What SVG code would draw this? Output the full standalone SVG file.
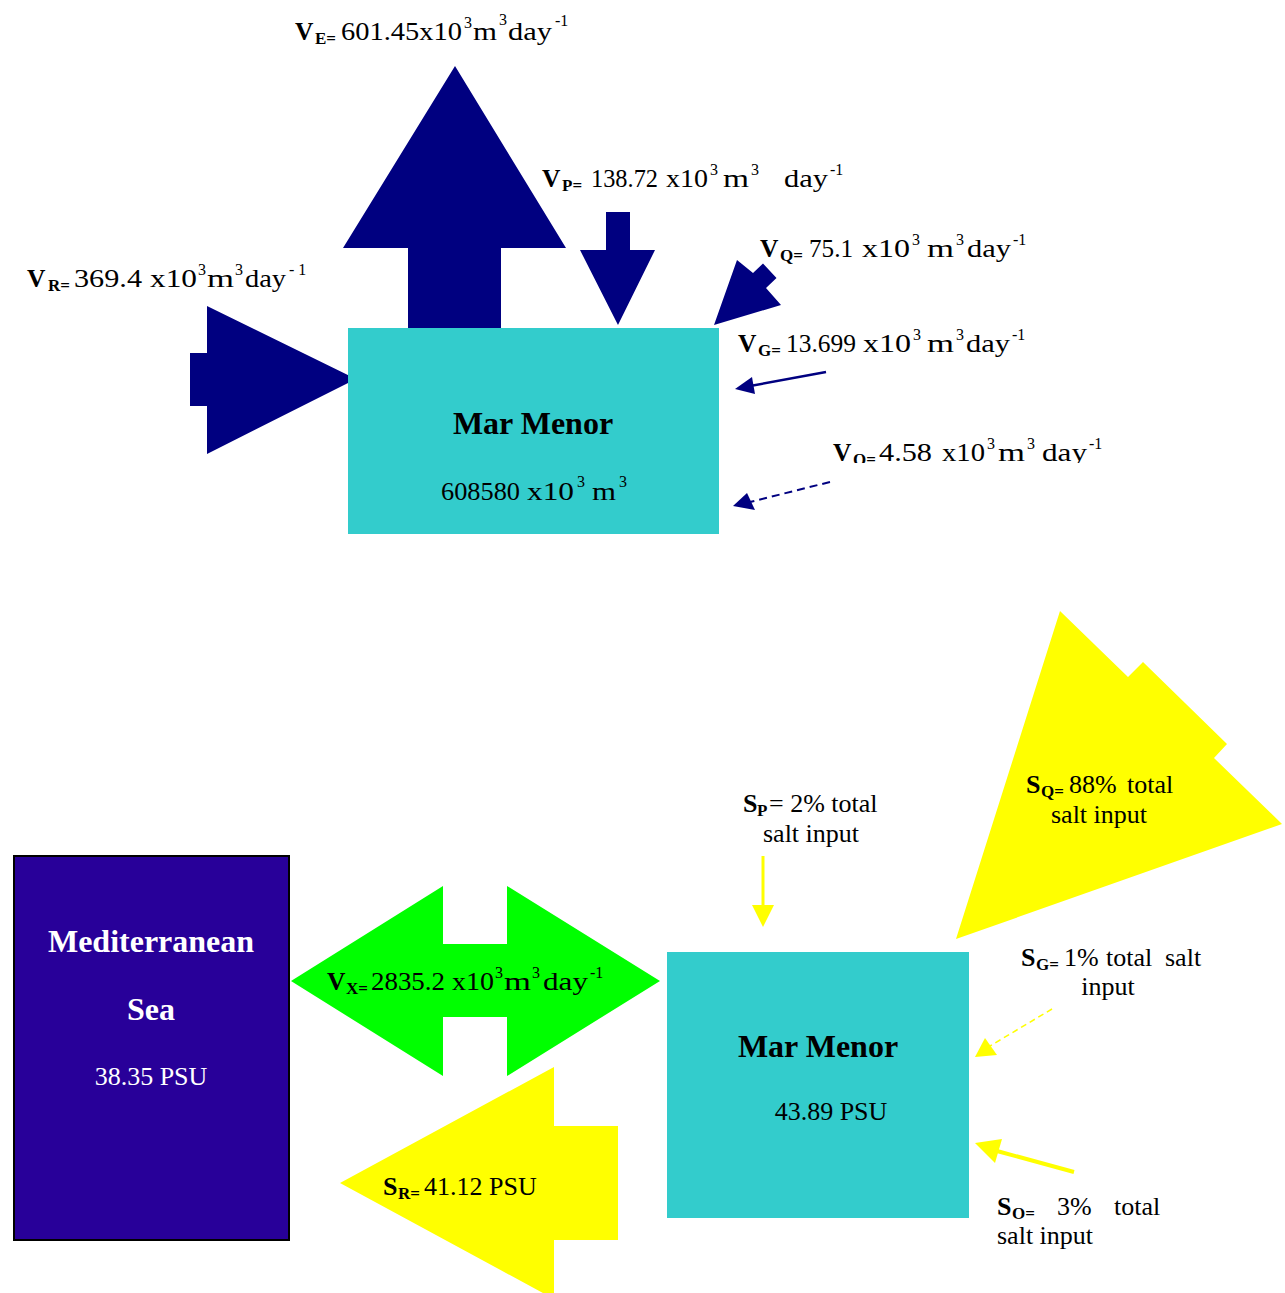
<svg xmlns="http://www.w3.org/2000/svg" width="1285" height="1293" viewBox="0 0 1285 1293">
<defs>
<style>
.t{font-family:"Liberation Serif","Times New Roman",serif;font-size:26px;fill:#000}
.v{font-size:25.5px}
.b{font-weight:bold}
.sb{font-weight:bold;font-size:17px}
.sup{font-size:16px}
.w{fill:#fff}
.h{font-weight:bold;font-size:32px}
.navy{fill:#000080}
.cyan{fill:#33CCCC}
.yel{fill:#FFFF00}
</style>
<clipPath id="clipO"><rect x="800" y="400" width="400" height="63"/></clipPath>
</defs>
<rect width="1285" height="1293" fill="#fff"/>

<g id="connectors">
<polygon id="arrow-VE" class="navy" points="455,66 566,248 501,248 501,328 408,328 408,248 343,248"/>
<polygon id="arrow-VP" class="navy" points="606,212 630,212 630,250 655,250 618,325 580,250 606,250"/>
<polygon id="arrow-VR" class="navy" points="190,353 207,353 207,306 356,379 207,454 207,406 190,406"/>
<polygon id="arrow-VQ" class="navy" points="714,325 737,260 753,273 763,263.5 776.5,278 766,288 781,305"/>
<g id="arrow-VG">
<line x1="826" y1="372" x2="750" y2="386" stroke="#000080" stroke-width="2.5"/>
<polygon class="navy" points="735,389 752,377 755,394"/>
</g>
<g id="arrow-VO">
<line x1="830" y1="482" x2="750" y2="502" stroke="#000080" stroke-width="2" stroke-dasharray="8,5"/>
<polygon class="navy" points="733,506 747,493 755,510"/>
</g>
<polygon id="arrow-VX" fill="#00FF00" points="291,981 443,886 443,944 507,944 507,886 660,981 507,1076 507,1017 443,1017 443,1076"/>
<polygon id="arrow-SR" class="yel" points="340,1183 554,1067 554,1126 618,1126 618,1240 554,1240 554,1299"/>
<polygon id="arrow-SQ" class="yel" points="956,939 1060,611 1128,677 1143,662 1227,744 1214,758 1282,824"/>
<g id="arrow-SP">
<line x1="763" y1="856" x2="763" y2="906" stroke="#FFFF00" stroke-width="3"/>
<polygon class="yel" points="752,905 774,905 763,927"/>
</g>
<g id="arrow-SG">
<line x1="1052" y1="1009" x2="990" y2="1046" stroke="#FFFF00" stroke-width="1.5" stroke-dasharray="6,4"/>
<polygon class="yel" points="975,1057 985,1038 997,1055"/>
</g>
<g id="arrow-SO">
<line x1="1074" y1="1172" x2="997" y2="1151" stroke="#FFFF00" stroke-width="4"/>
<polygon class="yel" points="975,1143 1002,1139 995,1163"/>
</g>
</g>

<g id="node-marmenor-top">
<rect class="cyan" x="348" y="328" width="371" height="206"/>
<text class="t h" x="533" y="434" text-anchor="middle">Mar Menor</text>
<text class="t" y="500"><tspan x="441" textLength="79" lengthAdjust="spacingAndGlyphs">608580</tspan><tspan x="527" textLength="47" lengthAdjust="spacingAndGlyphs">x10</tspan><tspan class="sup" x="577" y="487">3</tspan><tspan x="592" y="500" textLength="24" lengthAdjust="spacingAndGlyphs">m</tspan><tspan class="sup" x="619" y="487">3</tspan></text>
</g>

<g id="label-VE">
<text class="t v" y="40"><tspan class="b" x="295">V</tspan><tspan class="sb" x="315" y="44">E=</tspan><tspan x="341" y="40" textLength="121" lengthAdjust="spacingAndGlyphs">601.45x10</tspan><tspan class="sup" x="464" y="28">3</tspan><tspan x="473" y="40" textLength="24" lengthAdjust="spacingAndGlyphs">m</tspan><tspan class="sup" x="499" y="25">3</tspan><tspan x="508" y="40" textLength="44" lengthAdjust="spacingAndGlyphs">day</tspan><tspan class="sup" x="555" y="26">-1</tspan></text>
</g>
<g id="label-VP">
<text class="t v" y="187"><tspan class="b" x="542">V</tspan><tspan class="sb" x="562" y="191">P=</tspan><tspan x="591" y="187" textLength="67" lengthAdjust="spacingAndGlyphs">138.72</tspan><tspan x="666" textLength="42" lengthAdjust="spacingAndGlyphs">x10</tspan><tspan class="sup" x="710" y="175">3</tspan><tspan x="723" y="187" textLength="26" lengthAdjust="spacingAndGlyphs">m</tspan><tspan class="sup" x="751" y="175">3</tspan><tspan x="784" y="187" textLength="44" lengthAdjust="spacingAndGlyphs">day</tspan><tspan class="sup" x="830" y="175">-1</tspan></text>
</g>
<g id="label-VR">
<text class="t v" y="287"><tspan class="b" x="27">V</tspan><tspan class="sb" x="48" y="291">R=</tspan><tspan x="74" y="287" textLength="68" lengthAdjust="spacingAndGlyphs">369.4</tspan><tspan x="150" textLength="47" lengthAdjust="spacingAndGlyphs">x10</tspan><tspan class="sup" x="198" y="275">3</tspan><tspan x="207" y="287" textLength="27" lengthAdjust="spacingAndGlyphs">m</tspan><tspan class="sup" x="235" y="275">3</tspan><tspan x="245" y="287" textLength="41" lengthAdjust="spacingAndGlyphs">day</tspan><tspan class="sup" x="289" y="275">- 1</tspan></text>
</g>
<g id="label-VQ">
<text class="t v" y="257"><tspan class="b" x="760">V</tspan><tspan class="sb" x="780" y="261">Q=</tspan><tspan x="809" y="257" textLength="44" lengthAdjust="spacingAndGlyphs">75.1</tspan><tspan x="862" textLength="48" lengthAdjust="spacingAndGlyphs">x10</tspan><tspan class="sup" x="912" y="245">3</tspan><tspan x="927" y="257" textLength="27" lengthAdjust="spacingAndGlyphs">m</tspan><tspan class="sup" x="956" y="245">3</tspan><tspan x="967" y="257" textLength="44" lengthAdjust="spacingAndGlyphs">day</tspan><tspan class="sup" x="1013" y="245">-1</tspan></text>
</g>
<g id="label-VG">
<text class="t v" y="352"><tspan class="b" x="738">V</tspan><tspan class="sb" x="758" y="356">G=</tspan><tspan x="786" y="352" textLength="70" lengthAdjust="spacingAndGlyphs">13.699</tspan><tspan x="863" textLength="48" lengthAdjust="spacingAndGlyphs">x10</tspan><tspan class="sup" x="913" y="340">3</tspan><tspan x="927" y="352" textLength="27" lengthAdjust="spacingAndGlyphs">m</tspan><tspan class="sup" x="956" y="340">3</tspan><tspan x="966" y="352" textLength="44" lengthAdjust="spacingAndGlyphs">day</tspan><tspan class="sup" x="1012" y="340">-1</tspan></text>
</g>
<g id="label-VO" clip-path="url(#clipO)">
<text class="t v" y="461"><tspan class="b" x="833">V</tspan><tspan class="sb" x="853" y="465">O=</tspan><tspan x="879" y="461" textLength="53" lengthAdjust="spacingAndGlyphs">4.58</tspan><tspan x="942" textLength="43" lengthAdjust="spacingAndGlyphs">x10</tspan><tspan class="sup" x="987" y="449">3</tspan><tspan x="998" y="461" textLength="27" lengthAdjust="spacingAndGlyphs">m</tspan><tspan class="sup" x="1027" y="449">3</tspan><tspan x="1042" y="461" textLength="45" lengthAdjust="spacingAndGlyphs">day</tspan><tspan class="sup" x="1089" y="449">-1</tspan></text>
</g>

<g id="node-mediterranean">
<rect x="14" y="856" width="275" height="384" fill="#280099" stroke="#000" stroke-width="2"/>
<text class="t h w" x="151" y="952" text-anchor="middle">Mediterranean</text>
<text class="t h w" x="151" y="1020" text-anchor="middle">Sea</text>
<text class="t w" x="151" y="1085" text-anchor="middle">38.35 PSU</text>
</g>

<g id="node-marmenor-bottom">
<rect class="cyan" x="667" y="952" width="302" height="266"/>
<text class="t h" x="818" y="1057" text-anchor="middle">Mar Menor</text>
<text class="t" x="831" y="1120" text-anchor="middle">43.89 PSU</text>
</g>

<g id="label-VX">
<text class="t v" y="990"><tspan class="b" x="327">V</tspan><tspan class="sb" x="346" y="994">X=</tspan><tspan x="371" y="990" textLength="74" lengthAdjust="spacingAndGlyphs">2835.2</tspan><tspan x="452" textLength="42" lengthAdjust="spacingAndGlyphs">x10</tspan><tspan class="sup" x="495" y="978">3</tspan><tspan x="504" y="990" textLength="27" lengthAdjust="spacingAndGlyphs">m</tspan><tspan class="sup" x="532" y="978">3</tspan><tspan x="543" y="990" textLength="45" lengthAdjust="spacingAndGlyphs">day</tspan><tspan class="sup" x="590" y="978">-1</tspan></text>
</g>
<g id="label-SR">
<text class="t" y="1195"><tspan class="b" x="383">S</tspan><tspan class="sb" x="398" y="1199">R=</tspan><tspan x="424" y="1195">41.12 PSU</tspan></text>
</g>
<g id="label-SP">
<text class="t" y="812"><tspan class="b" x="743">S</tspan><tspan class="sb" x="757" y="816">P</tspan><tspan x="769" y="812">= 2% total</tspan></text>
<text class="t" x="811" y="842" text-anchor="middle">salt input</text>
</g>
<g id="label-SQ">
<text class="t" y="793"><tspan class="b" x="1026">S</tspan><tspan class="sb" x="1041" y="797">Q=</tspan><tspan x="1069" y="793">88%</tspan><tspan x="1127">total</tspan></text>
<text class="t" x="1099" y="823" text-anchor="middle">salt input</text>
</g>
<g id="label-SG">
<text class="t" y="966"><tspan class="b" x="1021">S</tspan><tspan class="sb" x="1036" y="970">G=</tspan><tspan x="1064" y="966">1%</tspan><tspan x="1106">total</tspan><tspan x="1165">salt</tspan></text>
<text class="t" x="1108" y="995" text-anchor="middle">input</text>
</g>
<g id="label-SO">
<text class="t" y="1215"><tspan class="b" x="997">S</tspan><tspan class="sb" x="1012" y="1219">O=</tspan><tspan x="1057" y="1215">3%</tspan><tspan x="1114">total</tspan></text>
<text class="t" x="997" y="1244">salt input</text>
</g>
</svg>
